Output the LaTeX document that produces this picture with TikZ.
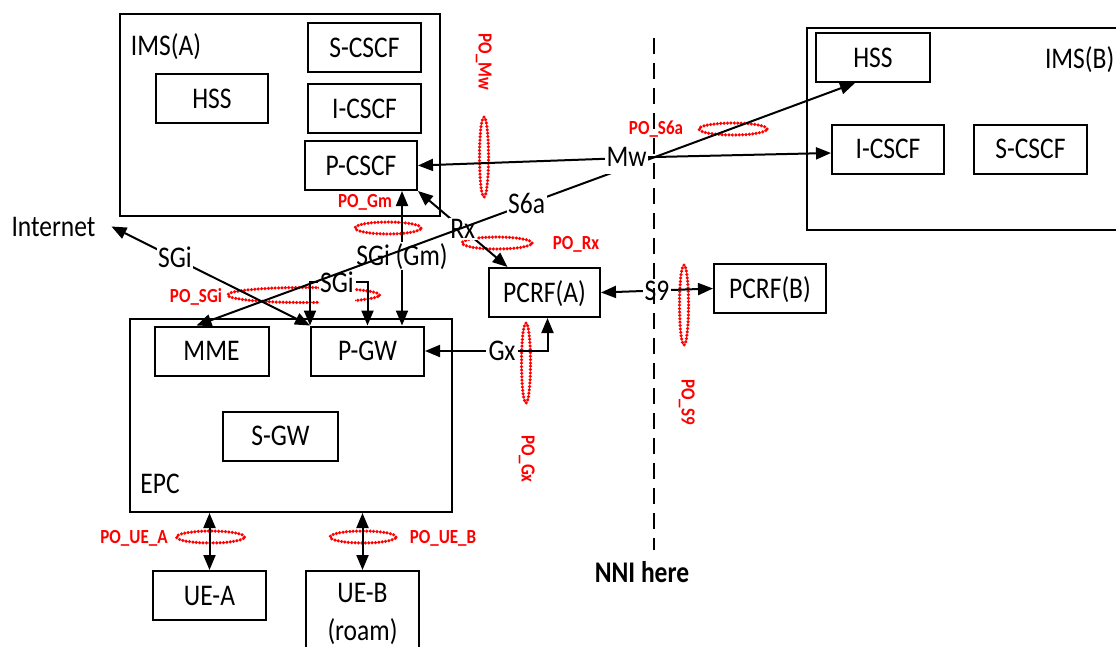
\documentclass[tikz,border=0pt]{standalone}
\usepackage{fontspec}
\setmainfont{Carlito}[FakeStretch=0.85]
\usetikzlibrary{arrows.meta}

\tikzset{
	nfbox/.style={draw, fill=white, minimum width=113pt, minimum height=49pt, inner sep=0pt, text height=19pt, text depth=0pt, font=\fontsize{30}{36}\selectfont},
	realm/.style={draw, inner sep=0pt},
	txt/.style={inner sep=0pt, font=\fontsize{30}{36}\selectfont},
	iface/.style={fill=white, inner sep=1.5pt, text height=19pt, text depth=0pt, font=\fontsize{30}{36}\selectfont},
	probering/.style={draw=red, line width=3.5pt, dash pattern=on 0pt off 3.4pt, line cap=round},
	probetext/.style={text=red, inner sep=0pt, text height=13pt, text depth=0pt, font=\fontsize{20}{24}\selectfont\bfseries},
}

\begin{document}
\begin{tikzpicture}[x=1pt, y=-1pt, line width=2pt, >={Triangle[length=15pt, width=12pt]}]
		\useasboundingbox (0,0) rectangle (1116,646);
		
		\coordinate (mw) at (655,157);
		\coordinate (nni top) at (654,38);
		\coordinate (nni bottom) at (654,550);
		
		% domains
		\node[realm, minimum width=320pt, minimum height=202pt] (ims a) at (280,115) {};
		\node[realm, minimum width=322pt, minimum height=193pt] (epc) at (291,415.5) {};
		\node[realm, minimum width=323pt, minimum height=202pt] (ims b) at (968.5,129) {};
		\node[txt, anchor=base] (ims a label) at (166,55) {IMS(A)};
		\node[txt, anchor=base] (epc label) at (160,493) {EPC};
		\node[txt, anchor=base west] (ims b label) at (1044,68) {IMS(B)};
		\node[txt, anchor=base] (internet) at (53.5,236) {Internet};
		
		% monitoring points
		\foreach \cx/\cy/\hx/\hy in {484/157/4.5/40, 733/129/34/6, 388/228/33/6, 497/243/35/6,
				303.5/295/76/7.5, 526/363/4.5/40, 684/305/4.5/40, 210.5/537/34/6, 363/537/33/6}
			\draw[probering] (\cx,\cy) ellipse [x radius=\hx pt, y radius=\hy pt];
		
		\node[probetext, rotate=-90] (po mw) at (485,62) {PO\_Mw};
		\node[probetext] (po s6a) at (656,128) {PO\_S6a};
		\node[probetext] (po gm) at (365,201) {PO\_Gm};
		\node[probetext] (po rx) at (576,243) {PO\_Rx};
		\node[probetext] (po sgi) at (196,296) {PO\_SGi};
		\node[probetext, rotate=-90] (po gx) at (528,459) {PO\_Gx};
		\node[probetext, rotate=-90] (po s9) at (688,402) {PO\_S9};
		\node[probetext] (po ue a) at (134,537) {PO\_UE\_A};
		\node[probetext] (po ue b) at (443,537) {PO\_UE\_B};
		
		% network functions
		\node[nfbox] (scscf a) at (364.5,47.5) {S-CSCF};
		\node[nfbox] (icscf a) at (364.5,108.5) {I-CSCF};
		\node[nfbox, minimum width=112pt] (pcscf a) at (361,165.5) {P-CSCF};
		\node[nfbox, minimum width=112pt] (hss a) at (212,98.5) {HSS};
		\node[nfbox, minimum width=114pt] (mme) at (211.5,351) {MME};
		\node[nfbox] (pgw) at (367.5,351) {P-GW};
		\node[nfbox, minimum width=115pt] (sgw) at (280.5,436) {S-GW};
		\node[nfbox] (ue a) at (209.5,595.5) {UE-A};
		\node[nfbox, minimum height=86pt, text height=, text depth=, align=center, font=\fontsize{30}{38}\selectfont] (ue b) at (362.5,614) {UE-B\\(roam)};
		\node[nfbox, minimum width=111pt] (pcrf a) at (544.5,292.5) {PCRF(A)};
		\node[nfbox, minimum width=112pt] (pcrf b) at (770,288.5) {PCRF(B)};
		\node[nfbox, minimum width=114pt] (hss b) at (873,57.5) {HSS};
		\node[nfbox, minimum width=112pt] (icscf b) at (888,149) {I-CSCF};
		\node[nfbox] (scscf b) at (1030.5,149) {S-CSCF};
		
		% interfaces
		\node[txt, anchor=base] (sgi gm) at (402,265) {SGi (Gm)};
		\node[iface, anchor=base, text depth=11pt] (sgi b) at (337,292) {SGi};
		\node[iface] (gx) at (502,351) {Gx};
		
		\draw[<->] ([xshift=15pt]internet.east) -- node[iface, pos=0.32] (sgi a) {SGi} (pgw.north west);
		\draw[->] (sgi gm.north) -- (sgi gm.north|-pcscf a.south);
		\draw[->] (sgi gm.south) -- (sgi gm.south|-pgw.north);
		\draw[->] ([yshift=6pt]sgi b.west) -| (pgw.north west);
		\draw[->] ([yshift=6pt]sgi b.east) -| (pgw.north);
		\draw[<->] (pcscf a.south east) -- node[iface] (rx) {Rx} ([xshift=-37pt]pcrf a.north);
		\draw[->] (gx.west) -- (pgw.east);
		\draw[->] (gx.east) -| ([xshift=3pt]pcrf a.south);
		\draw[<->] (pcrf a.east) -- node[iface] (s9) {S9} (pcrf b.west);
		\draw[<->] (ue a.north) -- (ue a.north|-epc.south);
		\draw[<->] (ue b.north) -- (ue b.north|-epc.south);
		
		\draw[<->] ([xshift=-15pt]mme.north) -- node[iface, pos=0.72] (s6a) {S6a} (mw) -- ([xshift=-18pt]hss b.south);
		\draw[<->] (pcscf a.east) -- node[iface, pos=0.88, text depth=6pt, yshift=-2pt] (mw label) {Mw} (mw) -- ([yshift=-4pt]icscf b.west);
		
		% NNI
		\draw[line width=2.5pt, dash pattern=on 16pt off 9pt] (nni top) -- (nni bottom);
		\node[txt, anchor=base] (nni label) at (642,582) {\bfseries NNI here};
	\end{tikzpicture}
\end{document}
